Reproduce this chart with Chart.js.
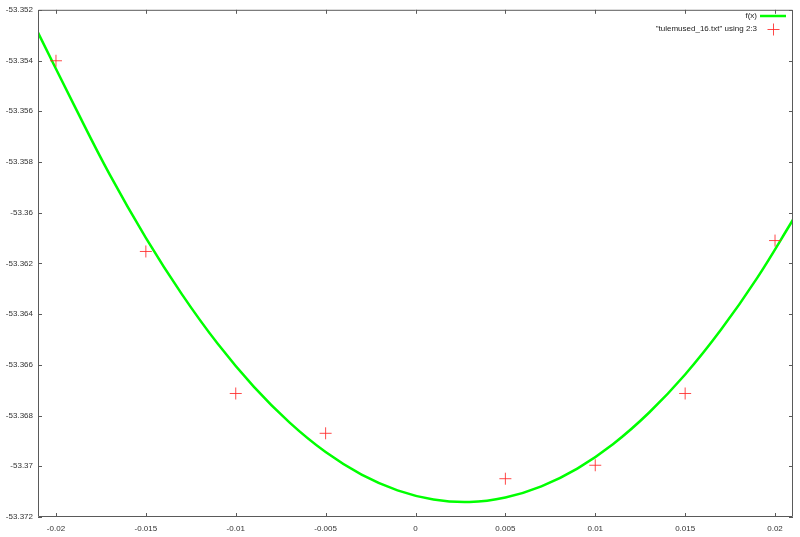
<!DOCTYPE html>
<html>
<head>
<meta charset="utf-8">
<script src="https://cdn.jsdelivr.net/npm/chart.js@4.4.1/dist/chart.umd.min.js"></script>
<style>
  html, body { margin: 0; padding: 0; background: #fff; }
  #wrap { width: 800px; height: 537px; }
</style>
</head>
<body>
<div id="wrap"><canvas id="fitChart" width="800" height="537"></canvas></div>
<script>
// Tick labels
const xTicks = [-0.02, -0.015, -0.01, -0.005, 0, 0.005, 0.01, 0.015, 0.02];
const yTicks = [-53.372, -53.37, -53.368, -53.366, -53.364, -53.362, -53.36, -53.358, -53.356, -53.354, -53.352];

// Measured points ("tulemused_16.txt" using 2:3)
const dataX = [-0.02, -0.015, -0.01, -0.005, 0.005, 0.01, 0.015, 0.02];
const dataY = [-53.35401, -53.36153, -53.36713, -53.36870, -53.37049, -53.36996, -53.36713, -53.36110];

// Fitted curve f(x)
const fitX = [-0.021, -0.019, -0.017, -0.015, -0.013, -0.011, -0.009, -0.007, -0.005, -0.003, -0.001,
              0.001, 0.003, 0.005, 0.007, 0.009, 0.011, 0.013, 0.015, 0.017, 0.019, 0.021];
const fitY = [-53.3529, -53.35575, -53.35851, -53.36099, -53.36321, -53.36517, -53.36686, -53.36828, -53.36944, -53.37033, -53.37095,
              -53.37131, -53.37141, -53.37123, -53.37079, -53.37009, -53.36912, -53.36788, -53.36638, -53.36461, -53.36258, -53.36028];

const axisColor = '#5a5a5a';
const crossColor = 'rgba(255, 40, 40, 0.85)';
const labelFont = { family: 'Liberation Sans', size: 8 };

// gnuplot style frame with inward ticks on all four sides, plus key
const framePlugin = {
    id: 'frame',
    afterDraw(chart) {
        const { ctx, chartArea: a, scales } = chart;
        const t = 4;
        ctx.save();
        ctx.strokeStyle = axisColor;
        ctx.lineWidth = 1;
        ctx.beginPath();
        ctx.rect(a.left + 0.5, a.top + 0.5, a.right - a.left - 1, a.bottom - a.top - 1);
        xTicks.forEach(v => {
            const px = Math.round(scales.x.getPixelForValue(v)) + 0.5;
            ctx.moveTo(px, a.bottom); ctx.lineTo(px, a.bottom - t);
            ctx.moveTo(px, a.top); ctx.lineTo(px, a.top + t);
        });
        yTicks.forEach(v => {
            const py = Math.round(scales.y.getPixelForValue(v)) + 0.5;
            ctx.moveTo(a.left, py); ctx.lineTo(a.left + t, py);
            ctx.moveTo(a.right, py); ctx.lineTo(a.right - t, py);
        });
        ctx.stroke();

        // key
        ctx.font = '8px "Liberation Sans"';
        ctx.fillStyle = '#222';
        ctx.textAlign = 'right';
        ctx.textBaseline = 'middle';
        ctx.fillText('f(x)', 757, 16);
        ctx.fillText('"tulemused_16.txt" using 2:3', 757, 29);
        ctx.strokeStyle = '#00ff00';
        ctx.lineWidth = 2.5;
        ctx.beginPath();
        ctx.moveTo(760, 16); ctx.lineTo(786, 16);
        ctx.stroke();
        ctx.strokeStyle = crossColor;
        ctx.lineWidth = 1;
        ctx.beginPath();
        ctx.moveTo(767.5, 29.5); ctx.lineTo(779.5, 29.5);
        ctx.moveTo(773.5, 23.5); ctx.lineTo(773.5, 35.5);
        ctx.stroke();
        ctx.restore();
    }
};

const ctx = document.getElementById('fitChart').getContext('2d');
const fitChart = new Chart(ctx, {
    type: 'scatter',
    data: {
        datasets: [
            {
                label: '"tulemused_16.txt" using 2:3',
                data: dataX.map((x, i) => ({ x: x, y: dataY[i] })),
                pointStyle: 'cross',
                pointRadius: 6,
                pointBorderWidth: 1,
                borderColor: crossColor,
                backgroundColor: crossColor,
                showLine: false,
            },
            {
                label: 'f(x)',
                data: fitX.map((x, i) => ({ x: x, y: fitY[i] })),
                showLine: true,
                borderColor: '#00ff00',
                borderWidth: 2.5,
                pointRadius: 0,
                tension: 0.4,
                fill: false,
            },
        ],
    },
    options: {
        responsive: false,
        animation: false,
        layout: { padding: { top: 7, right: 6, left: 0, bottom: 0 } },
        plugins: {
            legend: { display: false },
            tooltip: { enabled: false },
        },
        scales: {
            x: {
                type: 'linear',
                min: -0.021,
                max: 0.021,
                afterBuildTicks: s => { s.ticks = xTicks.map(v => ({ value: v })); },
                afterFit: s => { s.height = 20; },
                grid: { display: false, drawTicks: false },
                border: { display: false },
                ticks: {
                    callback: v => String(v),
                    font: labelFont,
                    color: '#333',
                    padding: 7,
                    maxRotation: 0,
                    autoSkip: false,
                },
            },
            y: {
                type: 'linear',
                min: -53.372,
                max: -53.352,
                afterBuildTicks: s => { s.ticks = yTicks.map(v => ({ value: v })); },
                afterFit: s => { s.width = 38; },
                grid: { display: false, drawTicks: false },
                border: { display: false },
                ticks: {
                    callback: v => String(v),
                    font: labelFont,
                    color: '#333',
                    padding: 5,
                    autoSkip: false,
                },
            },
        },
    },
    plugins: [framePlugin],
});
</script>
</body>
</html>
